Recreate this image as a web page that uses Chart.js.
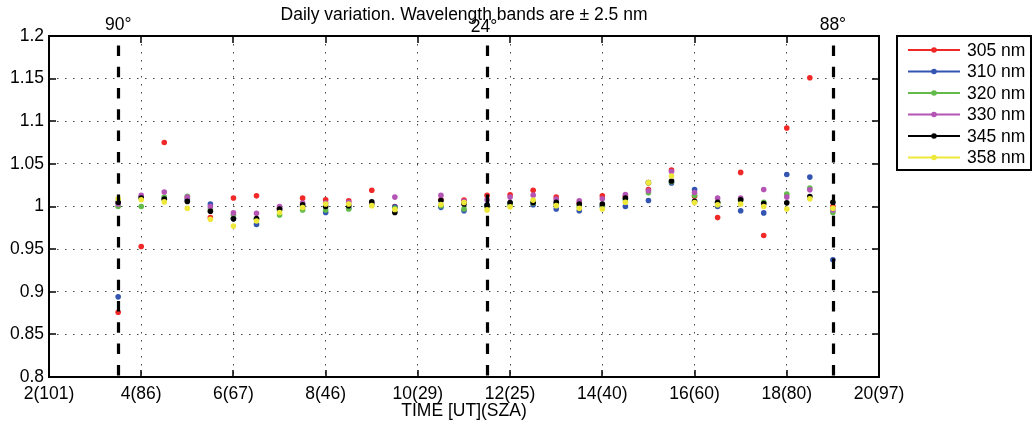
<!DOCTYPE html>
<html>
<head>
<meta charset="utf-8">
<script src="https://cdn.jsdelivr.net/npm/chart.js@4.4.0/dist/chart.umd.min.js"></script>
<style>
  html, body { margin: 0; padding: 0; background: #fff; }
  #wrap { width: 1032px; height: 430px; }
</style>
</head>
<body>
<div id="wrap"><canvas id="c" width="1032" height="430"></canvas></div>
<script>
// Measurement times (UT hours)
const times = [3.5, 4, 4.5, 5, 5.5, 6, 6.5, 7, 7.5, 8, 8.5, 9, 9.5, 10.5, 11, 11.5,
  12, 12.5, 13, 13.5, 14, 14.5, 15, 15.5, 16, 16.5, 17, 17.5, 18, 18.5, 19];

// Ratio values per wavelength band
const nm305 = [0.876, 0.953, 1.075, 1.010, 0.987, 1.010, 1.0125, 0.998, 1.0098, 1.008, 1.0067, 1.019, 1.000, 1.008, 1.0075, 1.013,
  1.0137, 1.019, 1.011, 1.004, 1.0125, 1.012, 1.020, 1.0427, 1.012, 0.987, 1.040, 0.966, 1.092, 1.151, 1.000];
const nm310 = [0.894, 1.011, 1.010, 1.008, 1.003, 0.986, 0.979, 0.996, 1.000, 0.993, 0.998, 1.003, 0.9996, 0.999, 0.995, 1.002,
  1.003, 1.002, 0.997, 0.995, 1.000, 1.000, 1.007, 1.0275, 1.020, 1.000, 0.995, 0.9925, 1.0376, 1.0345, 0.9376];
const nm320 = [1.000, 1.000, 1.011, 1.012, 0.997, 0.990, 0.985, 0.990, 0.996, 0.996, 0.997, 1.002, 0.998, 1.001, 0.997, 1.000,
  1.002, 1.004, 1.002, 1.000, 1.001, 1.008, 1.016, 1.029, 1.0133, 1.004, 1.007, 1.005, 1.0145, 1.0216, 0.993];
const nm330 = [1.003, 1.013, 1.017, 1.011, 1.000, 0.9925, 0.992, 1.000, 1.004, 1.004, 1.005, 1.004, 1.011, 1.013, 1.006, 1.008,
  1.011, 1.0133, 1.0086, 1.0067, 1.009, 1.014, 1.0185, 1.041, 1.0165, 1.0098, 1.0098, 1.020, 1.011, 1.0196, 0.996];
const nm345 = [1.005, 1.010, 1.0086, 1.006, 0.9945, 0.9855, 0.986, 0.997, 1.002, 1.000, 1.001, 1.0055, 0.993, 1.007, 1.003, 1.001,
  1.0047, 1.0047, 1.005, 1.003, 1.003, 1.0098, 1.028, 1.030, 1.006, 1.005, 1.008, 1.0035, 1.0043, 1.0118, 1.005];
const nm358 = [1.009, 1.008, 1.0054, 0.998, 0.985, 0.977, 0.983, 0.993, 0.9988, 1.003, 1.003, 1.001, 0.9965, 1.0024, 1.0047, 0.996,
  0.9996, 1.0075, 1.001, 0.998, 0.997, 1.005, 1.028, 1.0357, 1.0047, 1.002, 1.003, 1.000, 0.997, 1.009, 0.998];

const seriesNames = ['305 nm', '310 nm', '320 nm', '330 nm', '345 nm', '358 nm'];
const seriesValues = [nm305, nm310, nm320, nm330, nm345, nm358];
const seriesColors = ['#f02828', '#3354b0', '#62bb4a', '#b454b4', '#000000', '#eee83a'];

// Axis ticks
const xTickValues = [2, 4, 6, 8, 10, 12, 14, 16, 18, 20];
const xTickLabels = ['2(101)', '4(86)', '6(67)', '8(46)', '10(29)', '12(25)', '14(40)', '16(60)', '18(80)', '20(97)'];
const yTickValues = [0.8, 0.85, 0.9, 0.95, 1, 1.05, 1.1, 1.15, 1.2];
const yTickLabels = ['0.8', '0.85', '0.9', '0.95', '1', '1.05', '1.1', '1.15', '1.2'];

// Solar zenith angle markers
const szaTimes = [3.5, 11.5, 19];
const szaLabels = ['90°', '24°', '88°'];

const titleText = 'Daily variation. Wavelength bands are ± 2.5 nm';
const xAxisTitle = 'TIME [UT](SZA)';

const FONT = "'Liberation Sans', Arial, sans-serif";
const FS = 17.5;

const datasets = seriesValues.map((vals, i) => ({
  label: seriesNames[i],
  data: times.map((t, j) => ({ x: t, y: vals[j] })),
  backgroundColor: seriesColors[i],
  borderColor: seriesColors[i],
  pointRadius: 2.8,
  pointBorderWidth: 0,
  showLine: false,
  order: seriesValues.length - i
}));

const decorations = {
  id: 'decorations',
  afterDatasetsDraw(chart) {
    const { ctx, chartArea: a, scales: { x } } = chart;
    ctx.save();
    // SZA dashed markers
    ctx.strokeStyle = '#000';
    ctx.lineWidth = 3.2;
    ctx.setLineDash([10.5, 10.8]);
    ctx.lineDashOffset = 11.9;
    szaTimes.forEach(t => {
      const px = Math.round(x.getPixelForValue(t)) + 0.5;
      ctx.beginPath();
      ctx.moveTo(px, a.top);
      ctx.lineTo(px, a.bottom);
      ctx.stroke();
    });
    ctx.setLineDash([]);
    ctx.restore();
  },
  afterDraw(chart) {
    const { ctx, chartArea: a, scales: { x, y } } = chart;
    ctx.save();
    // Axes box
    ctx.strokeStyle = '#000';
    ctx.lineWidth = 2;
    ctx.strokeRect(a.left, a.top, a.right - a.left, a.bottom - a.top);
    // Inward tick marks on all four sides
    const tl = 7;
    ctx.lineWidth = 1.5;
    ctx.beginPath();
    xTickValues.forEach(v => {
      const px = Math.round(x.getPixelForValue(v));
      ctx.moveTo(px, a.bottom); ctx.lineTo(px, a.bottom - tl);
      ctx.moveTo(px, a.top); ctx.lineTo(px, a.top + tl);
    });
    yTickValues.forEach(v => {
      const py = Math.round(y.getPixelForValue(v));
      ctx.moveTo(a.left, py); ctx.lineTo(a.left + tl, py);
      ctx.moveTo(a.right, py); ctx.lineTo(a.right - tl, py);
    });
    ctx.stroke();

    // Texts
    ctx.fillStyle = '#000';
    ctx.font = FS + 'px ' + FONT;
    ctx.textAlign = 'center';
    ctx.textBaseline = 'alphabetic';
    const cx = (a.left + a.right) / 2;
    ctx.fillText(titleText, cx, 20);
    szaTimes.forEach((t, i) => {
      const px = x.getPixelForValue(t);
      ctx.fillText(szaLabels[i], px + (i === 1 ? -3 : 0), i === 1 ? 32 : 30);
    });
    ctx.fillText(xAxisTitle, cx, 416);

    // Legend
    const lx = 897, ly = 36, lw = 134, lh = 134;
    ctx.fillStyle = '#fff';
    ctx.fillRect(lx, ly, lw, lh);
    ctx.strokeStyle = '#000';
    ctx.lineWidth = 2;
    ctx.strokeRect(lx, ly, lw, lh);
    ctx.textAlign = 'left';
    ctx.textBaseline = 'middle';
    seriesNames.forEach((name, i) => {
      const yy = 50 + i * 21.5;
      ctx.strokeStyle = seriesColors[i];
      ctx.lineWidth = 2;
      ctx.beginPath();
      ctx.moveTo(908, yy); ctx.lineTo(960, yy);
      ctx.stroke();
      ctx.fillStyle = seriesColors[i];
      ctx.beginPath();
      ctx.arc(934, yy, 2.8, 0, Math.PI * 2);
      ctx.fill();
      ctx.fillStyle = '#000';
      ctx.fillText(name, 967, yy + 1);
    });
    ctx.restore();
  }
};

new Chart(document.getElementById('c'), {
  type: 'scatter',
  data: { datasets },
  options: {
    responsive: false,
    animation: false,
    layout: { padding: { left: 0, right: 153, top: 36, bottom: 0 } },
    plugins: { legend: { display: false }, tooltip: { enabled: false }, title: { display: false } },
    scales: {
      x: {
        type: 'linear', min: 2, max: 20,
        afterBuildTicks: s => { s.ticks = xTickValues.map(v => ({ value: v })); },
        afterFit: s => { s.height = 53; },
        ticks: {
          autoSkip: false, maxRotation: 0, padding: 7, color: '#000',
          font: { family: FONT, size: FS },
          callback: v => xTickLabels[xTickValues.indexOf(v)]
        },
        grid: { color: '#444', lineWidth: 1, drawTicks: false },
        border: { display: false, dash: [1.5, 6.5] }
      },
      y: {
        type: 'linear', min: 0.8, max: 1.2,
        afterBuildTicks: s => { s.ticks = yTickValues.map(v => ({ value: v })); },
        afterFit: s => { s.width = 49; },
        ticks: {
          autoSkip: false, padding: 5, color: '#000',
          font: { family: FONT, size: FS },
          callback: v => {
            const k = yTickValues.findIndex(t => Math.abs(t - v) < 1e-9);
            return k >= 0 ? yTickLabels[k] : '';
          }
        },
        grid: { color: '#444', lineWidth: 1, drawTicks: false },
        border: { display: false, dash: [1.5, 6.5] }
      }
    }
  },
  plugins: [decorations]
});
</script>
</body>
</html>
